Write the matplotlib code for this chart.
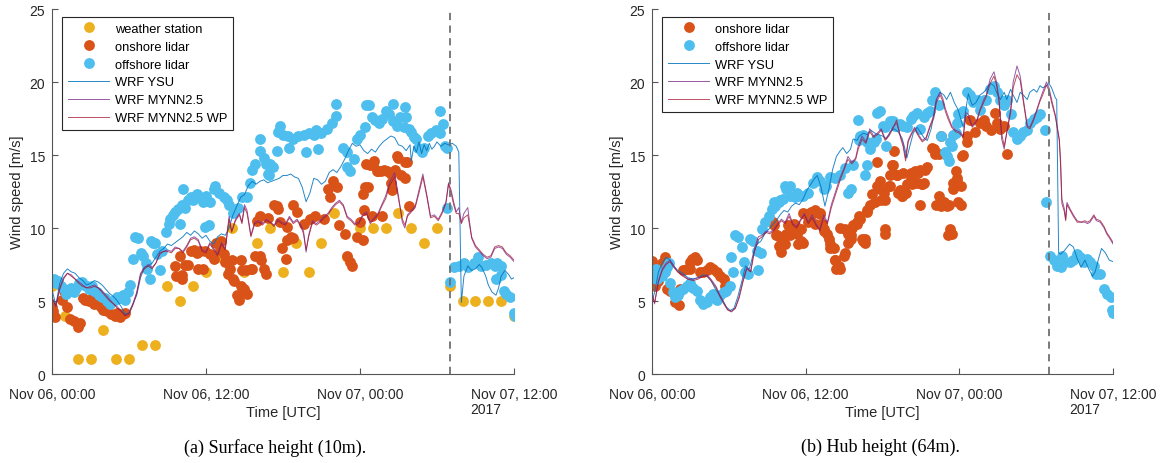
import numpy as np
import matplotlib.pyplot as plt
import matplotlib.dates as mdates

plt.rcParams['font.family'] = ['Liberation Sans', 'DejaVu Sans']
plt.rcParams['font.size'] = 10

T0 = np.datetime64('2017-11-06T00:00')
T_SPLIT = 31.0  # hours after T0 (dashed line)

C_WS = '#EDB120'
C_ON = '#D95319'
C_OFF = '#4DBEEE'
C_YSU = '#0072BD'
C_MY = '#7E2F8E'
C_WP = '#A2142F'

# ---------------- surface height (10 m) ----------------
ws_h = list(range(37))
ws_v = [6, 4, 1, 1, 3, 1, 1, 2, 2, 6, 5, 6, 7, 8, 10, 7, 9, 10, 7, 9, 7, 9, 11, 8,
        10, 10, 10, 11, 10, 9, 10, 6, 5, 5, 5, 5, 4]

on10_h = [0.0, 0.1, 0.2, 0.75, 0.9, 1.2, 1.4, 1.7, 2.0, 2.2, 2.4, 2.6, 2.9, 3.1, 3.3,
          3.6, 3.8, 4.0, 4.3, 4.6, 4.9, 5.1, 5.3, 5.5, 5.7, 9.6, 9.7, 10.0, 10.1, 10.1,
          10.4, 10.6, 10.8, 11.1, 11.3, 11.4, 11.5, 11.8, 11.9, 12.3, 12.6, 12.8, 13.1,
          13.2, 13.4, 13.5, 13.7, 13.9, 14.0, 14.1, 14.2, 14.4, 14.6, 14.7, 14.7, 14.8,
          15.0, 15.1, 15.2, 15.5, 15.6, 15.8, 16.0, 16.2, 16.2, 16.3, 16.5, 16.7, 16.8,
          17.3, 17.5, 17.6, 17.8, 17.9, 18.2, 18.3, 18.3, 18.6, 18.8, 18.8, 19.1, 19.6,
          20.1, 20.5, 21.2, 21.5, 21.7, 21.9, 22.2, 22.4, 22.8, 23.0, 23.2, 23.4, 23.8,
          24.0, 24.2, 24.2, 24.3, 24.4, 24.5, 24.6, 24.8, 24.9, 25.0, 25.1, 25.3, 25.4,
          25.6, 25.7, 25.9, 26.1, 26.4, 26.4, 26.5, 26.7, 26.9, 27.0, 27.2, 27.5, 27.5,
          27.7, 27.8]
on10_v = [4.6, 4.3, 3.9, 5.1, 5.7, 4.6, 3.8, 3.6, 3.2, 3.5, 5.2, 5.1, 5.0, 5.2, 4.8,
          4.8, 4.6, 4.4, 4.3, 4.1, 4.0, 4.2, 3.9, 4.1, 4.2, 7.4, 6.7, 8.1, 6.8, 6.5,
          7.5, 7.5, 8.45, 8.5, 8.3, 7.2, 8.45, 7.2, 8.45, 8.2, 7.9, 9.0, 8.5,
          9.1, 8.2, 7.65, 6.85, 7.2, 7.8, 6.5, 6.4, 5.4, 5.1, 6.05, 7.8, 7.1,
          5.8, 7.1, 5.5, 7.2, 7.2, 8.1, 10.5, 10.8, 8.1, 7.8, 7.2, 6.85, 10.7,
          11.6, 11.5, 11.3, 10.4, 8.6, 7.9, 9.2, 10.05, 9.4, 9.3, 11.6, 11.1, 10.3,
          10.6, 10.8, 10.6, 12.7, 12.1, 13.2, 12.8, 10.2, 9.6, 8.1, 7.65, 7.4, 9.4,
          10.4, 9.2, 12.3, 11.2, 12.8, 14.4, 12.8, 14.3, 10.8, 14.3, 14.6, 13.9, 13.9,
          13.9, 10.8, 14.0, 13.9, 13.7, 13.1, 12.6, 14.0, 14.95, 14.8, 13.6, 13.4, 14.5,
          14.5, 11.5]

off10_h = [0.0, 0.15, 0.3, 0.5, 0.7, 0.9, 1.1, 1.3, 1.5, 1.7, 1.9, 2.1, 2.3, 2.5, 2.7,
           2.9, 3.1, 3.3, 3.5, 3.7, 3.9, 4.1, 4.3, 4.5, 4.7, 4.9, 5.1, 5.3, 5.5, 5.7,
           5.9, 6.1, 6.3, 6.5, 6.7, 6.9, 7.1, 7.3, 7.4, 7.6, 7.7, 7.9, 8.0, 8.2, 8.4,
           8.6, 8.9, 9.1, 9.2, 9.4, 9.6, 9.8, 10.0, 10.1, 10.2, 10.4, 10.6, 10.8, 11.0,
           11.3, 11.5, 11.8, 11.9, 12.0, 12.2, 12.3, 12.6, 12.7, 13.0, 13.4, 13.6, 13.8,
           14.1, 14.5, 14.8, 15.2, 15.4, 15.6, 15.8, 16.2, 16.2, 16.5, 16.7, 16.8, 16.9,
           17.0, 17.2, 17.5, 17.6, 17.8, 18.0, 18.4, 18.5, 18.8, 19.2, 19.6, 19.8, 20.0,
           20.4, 20.6, 20.7, 21.0, 21.4, 21.8, 22.1, 22.1, 22.7, 23.0, 23.0, 23.2, 23.5,
           23.8, 24.0, 24.4, 24.5, 24.7, 24.9, 25.2, 25.5, 25.7, 26.0, 26.3, 26.6, 26.6,
           26.9, 27.1, 27.4, 27.5, 27.6, 27.8, 28.0, 28.2, 28.4, 28.5, 28.8, 29.0, 29.3,
           29.5, 29.9, 30.2, 30.2, 30.5, 30.6, 30.8, 30.8, 31.0, 31.3, 31.7, 32.1, 32.4,
           32.9, 33.2, 33.4, 33.8, 34.2, 34.5, 34.6, 34.7, 35.0, 35.0, 35.2, 35.4, 35.7,
           36.0, 36.1]
off10_v = [6.3, 6.5, 6.2, 6.4, 6.0, 5.8, 5.5, 5.7, 5.9, 5.6, 5.9, 6.2, 6.3, 6.1, 6.0,
           5.8, 6.0, 5.7, 5.6, 5.4, 5.3, 5.2, 5.0, 4.8, 5.0, 5.1, 5.3, 5.2, 5.4, 5.1,
           5.6, 6.1, 7.9, 9.4, 9.3, 8.3, 8.1, 7.6, 7.2, 6.5, 9.1, 9.0, 9.0, 8.2, 7.1,
           8.4, 9.7, 10.3, 10.6, 10.9, 11.1, 11.3, 10.3, 11.6, 12.7, 11.4, 11.9, 12.1, 11.9,
           12.3, 12.1, 11.8, 10.1, 12.2, 10.2, 11.8, 12.7, 12.9, 12.4, 12.1, 11.9, 11.6,
           11.0, 11.4, 12.1, 12.1, 13.1, 14.0, 14.4, 15.3, 16.1, 14.8, 14.4, 13.7, 13.6,
           14.4, 14.2, 15.3, 16.6, 17.0, 16.4, 16.3, 15.5, 16.1, 16.3, 16.4, 15.2, 16.5,
           16.4, 16.7, 15.4, 16.5, 16.8, 17.2, 17.7, 18.5, 15.5, 15.2, 14.2, 13.9, 14.7,
           16.1, 16.4, 16.9, 18.4, 18.4, 17.6, 17.4, 17.2, 17.5, 18.0, 17.8, 18.5, 17.3,
           17.0, 17.6, 16.9, 18.3, 17.6, 16.8, 16.6, 16.2, 16.1, 15.5, 15.2, 15.5, 16.3,
           16.5, 16.7, 16.5, 18.0, 17.1, 15.6, 15.5, 11.4, 6.3, 7.3, 7.4, 7.6, 7.3,
           7.6, 8.0, 7.4, 7.5, 7.6, 7.4, 6.5, 7.6, 7.4, 6.8, 5.7, 5.5, 5.3,
           4.2, 4.0]

ysu10_h = [0.0, 0.3, 0.6, 0.9, 1.2, 1.5, 1.8, 2.1, 2.4, 2.7, 3.0, 3.3, 3.6, 3.9, 4.2,
           4.5, 4.8, 5.1, 5.4, 5.7, 6.0, 6.3, 6.6, 6.9, 7.2, 7.5, 7.8, 8.1, 8.4, 8.7,
           9.0, 9.3, 9.6, 9.9, 10.2, 10.5, 10.8, 11.1, 11.4, 11.7, 12.0, 12.3, 12.6, 12.9,
           13.2, 13.5, 13.8, 14.1, 14.4, 14.7, 15.0, 15.3, 15.6, 15.9, 16.2, 16.5, 16.8,
           17.1, 17.4, 17.7, 18.0, 18.3, 18.6, 18.9, 19.2, 19.5, 19.8, 20.1, 20.4, 20.7,
           21.0, 21.3, 21.6, 21.9, 22.2, 22.5, 22.8, 23.1, 23.4, 23.7, 24.0, 24.3, 24.6,
           24.9, 25.2, 25.5, 25.8, 26.1, 26.4, 26.7, 27.0, 27.3, 27.6, 27.9, 28.0, 28.2,
           28.4, 28.6, 28.8, 29.0, 29.2, 29.4, 29.6, 29.8, 30.0, 30.3, 30.6, 30.9, 31.2,
           31.5, 31.7, 31.9, 32.1, 32.4, 32.7, 33.0, 33.3, 33.5, 33.8, 34.0, 34.3, 34.6,
           34.8, 35.0, 35.3, 35.6, 35.8, 36.0]
ysu10_v = [5.8, 4.7, 6.2, 6.9, 7.2, 7.0, 6.9, 6.6, 6.4, 6.1, 6.2, 6.4, 6.3, 6.1, 5.8,
           5.5, 5.3, 5.0, 4.6, 4.1, 4.2, 4.8, 5.4, 6.6, 7.3, 7.4, 7.6, 8.0, 8.4, 8.6,
           8.9, 8.8, 9.0, 9.2, 9.4, 9.7, 9.5, 9.8, 9.6, 9.3, 9.5, 9.1, 8.9, 9.4,
           9.6, 9.5, 10.0, 10.9, 11.5, 12.1, 12.3, 12.9, 13.2, 13.0, 13.2, 13.3, 13.1,
           13.2, 13.3, 13.4, 13.6, 13.6, 13.7, 13.5, 13.4, 12.8, 11.8, 12.4, 13.4, 13.3,
           13.0, 13.2, 13.8, 14.0, 13.8, 14.2, 14.7, 15.3, 15.8, 15.6, 15.7, 15.3, 15.1,
           15.4, 15.2, 15.6, 15.9, 16.1, 16.3, 16.2, 15.7, 15.6, 15.3, 15.7, 14.6, 15.6,
           15.2, 15.9, 15.1, 15.7, 15.3, 15.8, 15.4, 15.6, 15.9, 15.6, 15.8, 15.7, 15.8,
           15.6, 15.2, 4.9, 6.7, 7.4, 7.1, 7.2, 7.5, 7.3, 6.7, 6.1, 5.6, 5.4,
           5.9, 6.7, 7.1, 6.8, 6.5, 6.6]

my10_h = [0.0, 0.3, 0.6, 0.9, 1.2, 1.5, 1.8, 2.1, 2.4, 2.7, 3.0, 3.3, 3.6, 3.9, 4.2,
          4.5, 4.8, 5.1, 5.4, 5.7, 6.0, 6.3, 6.6, 6.9, 7.2, 7.5, 7.8, 8.1, 8.4, 8.7,
          9.0, 9.3, 9.6, 9.9, 10.2, 10.5, 10.8, 11.1, 11.4, 11.7, 12.0, 12.3, 12.6, 12.9,
          13.2, 13.5, 13.8, 14.0, 14.3, 14.6, 14.8, 15.0, 15.2, 15.5, 15.8, 16.1, 16.4,
          16.7, 17.0, 17.3, 17.6, 17.9, 18.2, 18.5, 18.8, 19.1, 19.4, 19.6, 19.8, 20.0,
          20.3, 20.6, 20.9, 21.2, 21.5, 21.8, 22.1, 22.4, 22.7, 23.0, 23.3, 23.6, 23.9,
          24.2, 24.5, 24.8, 25.1, 25.4, 25.7, 26.0, 26.3, 26.7, 27.0, 27.3, 27.5, 27.7,
          28.0, 28.3, 28.6, 28.9, 29.2, 29.5, 29.8, 30.1, 30.4, 30.7, 30.9, 31.1, 31.3,
          31.5, 31.7, 31.9, 32.1, 32.4, 32.7, 33.0, 33.3, 33.6, 33.9, 34.2, 34.5, 34.8,
          35.1, 35.4, 35.7, 36.0]
my10_v = [5.3, 4.6, 5.9, 6.6, 6.9, 6.8, 6.5, 6.3, 6.1, 5.9, 6.0, 6.1, 5.9, 5.7, 5.4,
          5.1, 4.8, 4.6, 4.3, 4.0, 4.2, 4.8, 5.6, 6.9, 7.3, 7.5, 7.3, 7.6, 8.3, 8.4,
          8.5, 8.4, 8.7, 8.6, 8.4, 8.8, 9.3, 9.4, 9.2, 8.5, 8.4, 9.0, 8.6, 8.2,
          9.0, 8.6, 10.8, 9.8, 10.6, 11.0, 10.4, 11.6, 11.2, 9.5, 10.4, 10.5, 10.3,
          10.6, 10.4, 10.2, 10.6, 10.4, 10.3, 10.8, 10.4, 10.6, 10.2, 9.8, 8.35, 9.5,
          10.5, 10.3, 10.5, 10.8, 11.0, 11.4, 11.7, 11.9, 11.6, 10.8, 10.6, 10.3, 10.4,
          10.9, 11.1, 10.4, 10.7, 11.0, 11.6, 12.2, 13.1, 13.8, 12.2, 10.4, 10.0, 10.9,
          11.2, 11.5, 12.6, 13.7, 12.3, 10.8, 10.9, 10.6, 11.1, 11.8, 13.1, 12.6, 11.8,
          11.1, 11.4, 10.4, 11.0, 11.4, 9.3, 8.7, 8.4, 8.1, 7.9, 8.0, 8.6, 8.7,
          8.6, 8.2, 8.0, 7.7]

wp10_v = [5.2, 4.7, 5.8, 6.5, 6.9, 6.7, 6.5, 6.2, 6.0, 5.9, 5.9, 6.0, 5.9, 5.6, 5.3,
          5.0, 4.8, 4.5, 4.3, 4.0, 4.1, 4.7, 5.5, 6.8, 7.2, 7.4, 7.2, 7.6, 8.2, 8.4,
          8.4, 8.3, 8.6, 8.6, 8.3, 8.7, 9.2, 9.3, 9.1, 8.4, 8.3, 8.9, 8.5, 8.1,
          8.9, 8.5, 10.6, 9.7, 10.5, 10.9, 10.3, 11.4, 11.0, 9.4, 10.3, 10.4, 10.2,
          10.5, 10.4, 10.1, 10.5, 10.3, 10.2, 10.7, 10.3, 10.5, 10.1, 9.6, 8.5, 9.4,
          10.4, 10.2, 10.4, 10.7, 10.9, 11.3, 11.6, 11.8, 11.5, 10.7, 10.5, 10.2, 10.3,
          10.8, 11.0, 10.3, 10.6, 10.9, 11.5, 12.0, 12.9, 13.5, 12.0, 10.6, 10.2, 10.8,
          11.1, 11.4, 12.4, 13.5, 12.2, 10.7, 10.8, 10.5, 11.0, 11.7, 13.0, 12.4, 11.6,
          11.0, 11.0, 10.3, 10.7, 10.9, 9.4, 8.8, 8.5, 8.2, 8.0, 8.1, 8.7, 8.8,
          8.7, 8.3, 8.1, 7.8]

# ---------------- hub height (64 m) ----------------
on64_h = [0.0, 0.25, 0.5, 0.8, 1.0, 1.2, 1.4, 1.8, 2.1, 2.2, 2.45, 2.7, 2.97, 3.0, 3.1,
          3.36, 3.5, 3.75, 4.0, 4.3, 4.5, 4.8, 5.05, 5.3, 5.6, 5.7, 9.48, 9.5, 9.7,
          9.74, 9.9, 10.0, 10.0, 10.1, 10.1, 10.4, 10.5, 10.65, 10.8, 10.8, 11.05, 11.05,
          11.2, 11.3, 11.4, 11.6, 11.6, 11.8, 11.8, 11.95, 12.2, 12.4, 12.5, 12.7, 12.7,
          13.1, 13.1, 13.3, 13.4, 13.4, 13.65, 13.8, 13.9, 13.9, 14.2, 14.3, 14.3, 14.4,
          14.6, 14.7, 14.7, 15.0, 15.1, 15.1, 15.3, 15.3, 15.5, 15.5, 15.6, 15.7, 16.0,
          16.0, 16.2, 16.25, 16.4, 16.5, 16.6, 16.6, 16.8, 16.8, 17.0, 17.2, 17.4, 17.55,
          17.55, 17.7, 17.8, 17.8, 17.9, 18.1, 18.2, 18.2, 18.2, 18.5, 18.6, 18.6, 18.7,
          18.85, 18.85, 18.9, 19.1, 19.1, 19.2, 19.4, 19.5, 19.5, 19.6, 19.8, 19.9, 20.2,
          20.2, 20.3, 20.4, 20.5, 20.7, 20.8, 20.9, 20.9, 21.1, 21.1, 21.2, 21.3, 21.5,
          21.85, 22.0, 22.1, 22.2, 22.4, 22.4, 22.6, 22.6, 22.8, 23.0, 23.1, 23.2, 23.3,
          23.4, 23.5, 23.5, 23.7, 23.8, 23.8, 23.9, 24.1, 24.1, 24.2, 24.3, 24.6, 24.6,
          24.85, 25.2, 25.6, 25.9, 26.1, 26.5, 26.8, 26.9, 27.2, 27.5, 27.7]
on64_v = [7.75, 6.05, 6.4, 7.6, 8.0, 5.85, 5.7, 4.9, 4.7, 5.8, 7.1, 7.2, 7.65, 7.2, 7.9,
          8.0, 7.8, 7.0, 7.0, 7.1, 7.3, 7.2, 7.0, 6.7, 6.5, 6.0, 10.4, 10.2, 9.5,
          9.5, 8.8, 8.7, 8.8, 9.25, 8.33, 8.9, 9.6, 10.2, 9.9, 9.5, 9.9, 10.3,
          10.2, 9.6, 8.9, 9.9, 9.1, 9.0, 11.0, 10.96, 10.4, 11.1, 10.96, 10.3, 11.2,
          10.96, 11.0, 10.3, 9.8, 9.9, 9.6, 9.24, 8.9, 8.6, 8.6, 7.8, 7.8, 7.2,
          7.4, 7.2, 10.0, 8.1, 8.3, 9.9, 9.0, 9.6, 9.25, 9.5, 10.0, 10.2, 10.4,
          10.3, 10.85, 10.6, 9.24, 9.1, 9.0, 9.24, 11.1, 11.2, 11.6, 12.3, 11.8, 12.9,
          14.5, 12.8, 12.7, 13.2, 11.9, 12.4, 9.6, 9.9, 11.9, 12.9, 12.9, 13.6, 14.3,
          14.3, 13.7, 15.3, 13.6, 13.6, 12.4, 12.6, 12.2, 12.2, 13.8, 12.4, 13.0, 13.8,
          13.5, 13.0, 13.1, 13.9, 13.1, 13.8, 14.0, 11.6, 13.0, 13.0, 13.1, 14.0, 14.2,
          15.5, 15.4, 15.1, 11.6, 12.2, 15.1, 16.3, 11.5, 11.75, 11.5, 9.5, 11.6, 9.9,
          9.6, 13.1, 12.7, 13.9, 13.4, 13.2, 11.75, 12.9, 11.6, 14.9, 15.0, 15.9, 16.3,
          17.4, 16.55, 17.2, 17.4, 17.0, 16.7, 17.9, 17.2, 16.8, 17.0, 15.1]

off64_h = [0.0, 0.3, 0.4, 0.8, 1.0, 1.2, 1.3, 1.4, 1.67, 1.8, 2.06, 2.2, 2.45, 2.7, 2.97,
           3.2, 3.5, 3.75, 4.0, 4.27, 4.53, 4.8, 5.05, 5.3, 5.6, 5.8, 6.1, 6.2, 6.35,
           6.5, 6.75, 7.0, 7.2, 7.27, 7.5, 7.66, 7.9, 8.18, 8.3, 8.5, 8.57, 8.8, 9.1,
           9.35, 9.5, 9.6, 9.9, 10.0, 10.26, 10.4, 10.5, 10.8, 10.8, 11.2, 11.3, 11.4,
           11.8, 12.2, 12.6, 12.9, 13.1, 13.4, 13.6, 13.9, 14.3, 14.7, 15.1, 15.3, 15.5,
           15.7, 16.1, 16.2, 16.25, 16.4, 16.5, 16.6, 16.8, 16.8, 17.0, 17.3, 17.5, 17.55,
           17.8, 18.07, 18.2, 18.3, 18.6, 18.85, 19.0, 19.1, 19.4, 19.6, 19.9, 20.2, 20.4,
           20.7, 20.9, 21.2, 21.5, 21.7, 21.85, 22.1, 22.4, 22.6, 22.9, 23.0, 23.2, 23.3,
           23.4, 23.5, 23.7, 23.8, 23.9, 24.1, 24.3, 24.6, 24.85, 25.1, 25.4, 25.6, 25.9,
           26.1, 26.4, 26.7, 26.9, 27.2, 27.5, 27.7, 28.0, 28.2, 28.5, 28.75, 29.0, 29.3,
           29.5, 29.8, 30.05, 30.3, 30.7, 30.8, 31.1, 31.35, 31.6, 31.9, 32.0, 32.27, 32.65,
           32.9, 33.2, 33.4, 33.7, 33.96, 34.2, 34.5, 34.7, 35.0, 35.3, 35.5, 35.8, 35.9,
           36.0]
off64_v = [6.6, 7.2, 6.5, 6.7, 7.0, 7.3, 7.6, 6.2, 5.6, 5.25, 5.4, 5.7, 5.8, 6.0, 6.2,
           5.9, 5.7, 5.1, 4.8, 4.9, 5.25, 5.5, 5.1, 5.4, 5.6, 5.7, 6.0, 8.0, 7.0,
           9.5, 9.4, 8.7, 7.65, 7.0, 6.85, 9.25, 9.1, 8.45, 7.1, 8.3, 9.9, 10.4, 10.85,
           11.3, 11.75, 11.5, 11.8, 11.9, 12.0, 12.9, 12.7, 12.2, 12.9, 12.1, 12.4, 12.2,
           12.2, 12.4, 13.1, 13.5, 13.2, 12.7, 12.9, 13.5, 13.4, 13.6, 14.1, 12.4, 12.7,
           14.3, 17.4, 16.0, 16.3, 16.3, 16.4, 13.6, 15.9, 14.3, 15.4, 15.9, 16.1, 17.9,
           18.0, 17.0, 16.9, 15.6, 17.3, 17.3, 17.0, 17.0, 17.1, 17.0, 16.9, 17.5, 17.7,
           17.9, 16.8, 17.6, 17.9, 18.0, 18.8, 19.3, 18.4, 16.3, 15.2, 14.9, 14.6, 15.9,
           15.6, 16.4, 16.5, 17.2, 17.8, 17.9, 18.0, 19.3, 19.1, 18.6, 18.8, 18.1, 18.8,
           18.8, 19.5, 19.75, 19.3, 18.8, 18.4, 18.8, 17.8, 16.55, 16.1, 16.3, 16.55, 16.7,
           17.2, 17.5, 17.6, 17.8, 16.7, 11.8, 8.1, 7.8, 7.4, 7.3, 8.1, 7.65, 7.65,
           7.8, 8.2, 8.0, 7.65, 7.9, 7.65, 7.4, 6.85, 6.85, 5.8, 5.5, 5.25, 4.35,
           4.2]

ysu64_h = [0.0, 0.25, 0.5, 0.8, 1.1, 1.4, 1.7, 2.0, 2.4, 2.8, 3.2, 3.6, 4.0, 4.3, 4.6,
           4.9, 5.2, 5.5, 5.8, 6.1, 6.4, 6.7, 7.0, 7.3, 7.6, 7.9, 8.2, 8.5, 8.8, 9.1,
           9.4, 9.7, 10.0, 10.3, 10.6, 10.9, 11.2, 11.5, 11.8, 12.1, 12.4, 12.7, 12.9,
           13.2, 13.5, 13.8, 14.1, 14.4, 14.7, 14.9, 15.2, 15.5, 15.7, 16.0, 16.2, 16.5,
           16.8, 17.1, 17.4, 17.7, 18.0, 18.3, 18.6, 18.9, 19.2, 19.5, 19.7, 19.9, 20.1,
           20.4, 20.7, 21.0, 21.3, 21.5, 21.8, 22.0, 22.2, 22.5, 22.8, 23.0, 23.3, 23.6,
           23.9, 24.1, 24.3, 24.5, 24.7, 25.0, 25.3, 25.6, 25.9, 26.1, 26.4, 26.7, 26.9,
           27.2, 27.5, 27.7, 28.0, 28.2, 28.5, 28.75, 29.0, 29.3, 29.5, 29.8, 30.05, 30.3,
           30.5, 30.8, 31.0, 31.2, 31.5, 31.6, 31.75, 31.9, 32.2, 32.6, 32.9, 33.2, 33.5,
           33.8, 34.1, 34.4, 34.6, 34.9, 35.1, 35.4, 35.7, 36.0]
ysu64_v = [4.9, 5.8, 7.0, 7.6, 8.0, 7.8, 7.4, 7.1, 6.9, 6.6, 6.5, 6.6, 6.8, 6.7, 6.4,
           5.9, 5.5, 5.1, 4.6, 4.35, 4.5, 5.3, 6.3, 7.4, 7.2, 8.2, 8.9, 9.1, 9.6, 9.9,
           10.2, 10.5, 10.9, 11.2, 11.1, 11.5, 11.7, 11.6, 12.0, 12.6, 13.0, 13.4, 13.6,
           12.8, 11.5, 12.6, 14.0, 14.9, 15.3, 15.5, 15.1, 15.4, 16.1, 16.0, 16.3, 16.5,
           16.4, 16.7, 16.5, 16.4, 16.3, 16.1, 16.6, 16.8, 16.6, 16.2, 15.6, 14.8, 15.5,
           16.5, 16.9, 16.5, 16.1, 16.0, 16.8, 17.8, 18.8, 19.3, 19.1, 18.8, 19.3, 18.6,
           18.1, 17.5, 16.9, 18.1, 19.2, 18.4, 18.6, 19.1, 19.3, 19.5, 19.9, 19.75, 19.3,
           18.8, 19.3, 18.8, 19.5, 19.1, 18.6, 19.3, 19.1, 18.8, 19.3, 19.5, 19.3, 19.75,
           19.6, 19.75, 19.9, 19.6, 18.9, 18.8, 8.3, 8.2, 8.45, 8.9, 8.7, 7.9, 7.3,
           7.8, 7.2, 6.7, 7.0, 8.0, 8.6, 8.3, 7.8, 7.7]

my64_h = [0.0, 0.2, 0.5, 0.8, 1.1, 1.4, 1.7, 2.0, 2.4, 2.8, 3.2, 3.6, 4.0, 4.3, 4.6,
          5.0, 5.3, 5.6, 5.9, 6.2, 6.5, 6.8, 7.1, 7.4, 7.7, 8.0, 8.3, 8.6, 8.9, 9.2,
          9.5, 9.8, 10.1, 10.4, 10.7, 11.0, 11.3, 11.6, 11.9, 12.2, 12.5, 12.8, 13.1,
          13.4, 13.7, 14.0, 14.4, 14.7, 15.0, 15.3, 15.6, 15.9, 16.1, 16.4, 16.7, 17.0,
          17.3, 17.6, 17.9, 18.2, 18.5, 18.8, 19.1, 19.4, 19.6, 19.8, 20.0, 20.2, 20.5,
          20.8, 21.1, 21.4, 21.7, 22.0, 22.2, 22.5, 22.7, 22.9, 23.1, 23.4, 23.7, 24.0,
          24.3, 24.5, 24.7, 25.0, 25.2, 25.4, 25.6, 25.9, 26.1, 26.4, 26.7, 26.9, 27.1,
          27.3, 27.5, 27.7, 28.0, 28.2, 28.5, 28.75, 29.0, 29.3, 29.5, 29.8, 30.0, 30.3,
          30.5, 30.8, 31.0, 31.2, 31.5, 31.8, 31.9, 32.0, 32.2, 32.3, 32.4, 32.65, 32.9,
          33.2, 33.5, 33.8, 34.0, 34.2, 34.5, 34.7, 35.0, 35.3, 35.5, 35.8, 36.0]
my64_v = [5.5, 4.8, 6.4, 7.2, 7.6, 7.8, 7.4, 7.0, 6.8, 6.5, 6.5, 6.6, 6.7, 6.8, 6.5,
          6.0, 5.4, 4.9, 4.4, 4.25, 4.5, 5.3, 6.4, 7.3, 7.0, 8.6, 9.4, 9.5, 9.8, 9.7,
          9.9, 10.3, 10.6, 10.4, 11.0, 10.3, 10.1, 10.6, 11.0, 10.4, 10.9, 10.3, 9.9,
          10.9, 10.4, 11.6, 12.7, 13.5, 14.1, 14.9, 14.5, 14.8, 15.6, 16.3, 15.9, 16.8,
          16.3, 16.5, 16.8, 16.1, 16.4, 16.9, 17.2, 16.3, 15.8, 14.8, 16.0, 16.4, 16.9,
          16.4, 16.0, 16.2, 17.0, 17.7, 18.8, 19.3, 18.9, 18.2, 17.7, 17.0, 16.7, 16.6,
          16.3, 17.9, 17.8, 17.0, 17.2, 17.5, 18.1, 18.8, 19.1, 20.2, 20.7, 20.0, 18.8,
          16.1, 15.4, 16.6, 18.1, 20.0, 21.1, 20.4, 18.8, 17.0, 16.9, 17.5, 18.0, 18.8,
          19.3, 20.0, 19.6, 18.8, 17.7, 16.1, 14.7, 12.0, 11.3, 10.6, 11.75, 11.3, 10.9,
          10.5, 10.4, 10.4, 10.3, 10.4, 10.8, 10.5, 10.4, 10.0, 9.6, 9.2, 8.9]
wp64_v = [5.4, 4.9, 6.3, 7.1, 7.5, 7.7, 7.3, 7.0, 6.7, 6.5, 6.4, 6.5, 6.7, 6.7, 6.4,
          5.9, 5.3, 4.8, 4.4, 4.3, 4.5, 5.2, 6.3, 7.2, 7.0, 8.4, 9.2, 9.4, 9.7, 9.6,
          9.8, 10.2, 10.5, 10.3, 10.8, 10.2, 10.0, 10.5, 10.9, 10.3, 10.7, 10.2, 9.8,
          10.7, 10.3, 11.4, 12.5, 13.3, 14.0, 14.7, 14.4, 14.7, 15.4, 16.1, 15.8, 16.6,
          16.2, 16.4, 16.7, 16.0, 16.3, 16.8, 17.4, 16.2, 15.6, 14.6, 15.9, 16.3, 16.8,
          16.3, 15.9, 16.1, 16.9, 17.5, 18.6, 19.1, 18.7, 18.0, 17.5, 16.9, 16.6, 16.5,
          16.2, 17.7, 17.6, 16.9, 17.1, 17.4, 18.0, 18.6, 19.0, 19.9, 20.4, 19.8, 18.6,
          16.5, 15.6, 16.5, 17.9, 19.6, 20.5, 20.1, 18.6, 16.9, 16.8, 17.4, 17.9, 18.7,
          19.1, 19.8, 19.4, 18.6, 17.6, 16.0, 14.3, 11.7, 11.1, 10.5, 11.6, 11.2, 10.8,
          10.4, 10.4, 10.5, 10.4, 10.5, 10.9, 10.6, 10.5, 10.1, 9.7, 9.3, 9.0]


def to_time(hours):
    secs = np.round(np.asarray(hours, dtype=float) * 3600).astype('timedelta64[s]')
    return T0 + secs


def style_axes(ax):
    ax.set_xlim(to_time([0])[0], to_time([36])[0])
    ax.set_ylim(0, 25)
    ax.set_yticks([0, 5, 10, 15, 20, 25])
    ax.set_xticks(to_time([0, 12, 24, 36]))
    ax.xaxis.set_major_formatter(mdates.DateFormatter('%b %d, %H:%M'))
    for side in ('top', 'right'):
        ax.spines[side].set_visible(False)
    for side in ('left', 'bottom'):
        ax.spines[side].set_color('#555555')
        ax.spines[side].set_linewidth(0.8)
    ax.tick_params(direction='in', length=4, width=0.8, color='#555555',
                   labelcolor='#262626', labelsize=10)
    ax.tick_params(axis='x', pad=9)
    ax.tick_params(axis='y', pad=5)
    ax.set_ylabel('Wind speed [m/s]', color='#262626', fontsize=10.5, labelpad=4)
    ax.set_xlabel('Time [UTC]', color='#262626', fontsize=10.5, labelpad=3)
    ax.text(0.905, -0.096, '2017', transform=ax.transAxes, ha='left', va='center',
            fontsize=10, color='#262626')
    ax.axvline(to_time([T_SPLIT])[0], color='#707070', lw=1.3, ls=(0, (4, 3)),
               zorder=6)


dot = dict(ls='none', marker='o', ms=7.8, mew=0)
line = dict(lw=0.7)

fig = plt.figure(figsize=(11.66, 4.64), dpi=100)
ax1 = fig.add_axes([0.0446, 0.1918, 0.3962, 0.7866])
ax2 = fig.add_axes([0.5592, 0.1918, 0.3954, 0.7866])

ax1.plot(to_time(ws_h), ws_v, color=C_WS, label='weather station', **dot)
ax1.plot(to_time(on10_h), on10_v, color=C_ON, label='onshore lidar', **dot)
ax1.plot(to_time(off10_h), off10_v, color=C_OFF, label='offshore lidar', **dot)
ax1.plot(to_time(ysu10_h), ysu10_v, color=C_YSU, alpha=0.85, label='WRF YSU', **line)
ax1.plot(to_time(my10_h), my10_v, color=C_MY, alpha=0.8, label='WRF MYNN2.5', **line)
ax1.plot(to_time(my10_h), wp10_v, color=C_WP, alpha=0.75, label='WRF MYNN2.5 WP', **line)

ax2.plot(to_time(on64_h), on64_v, color=C_ON, label='onshore lidar', **dot)
ax2.plot(to_time(off64_h), off64_v, color=C_OFF, label='offshore lidar', **dot)
ax2.plot(to_time(ysu64_h), ysu64_v, color=C_YSU, alpha=0.85, label='WRF YSU', **line)
ax2.plot(to_time(my64_h), my64_v, color=C_MY, alpha=0.8, label='WRF MYNN2.5', **line)
ax2.plot(to_time(my64_h), wp64_v, color=C_WP, alpha=0.75, label='WRF MYNN2.5 WP', **line)

for ax in (ax1, ax2):
    style_axes(ax)
    leg = ax.legend(loc='upper left', bbox_to_anchor=(0.022, 0.978), fancybox=False,
                    framealpha=1, edgecolor='#262626', fontsize=9.3, handlelength=3.2,
                    handletextpad=0.45, labelspacing=0.45, borderpad=0.45,
                    borderaxespad=0.0)
    leg.get_frame().set_linewidth(0.8)

fig.text(0.236, 0.035, '(a) Surface height (10m).', ha='center', va='center',
         fontsize=13, family=['Liberation Serif', 'DejaVu Serif'])
fig.text(0.755, 0.035, '(b) Hub height (64m).', ha='center', va='center',
         fontsize=13, family=['Liberation Serif', 'DejaVu Serif'])

fig.savefig('out.png', dpi=100)
